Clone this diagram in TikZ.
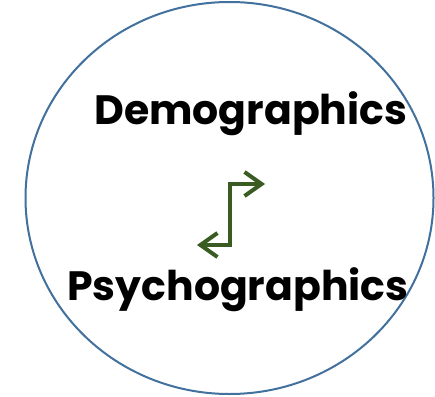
\documentclass[tikz,border=0pt]{standalone}
\usepackage{fontspec}
\setmainfont{Poppins}
\usetikzlibrary{arrows.meta}
\definecolor{ringblue}{HTML}{41719C}
\definecolor{arrowgreen}{HTML}{3A5C22}
\tikzset{
  ring/.style={draw=ringblue, line width=2pt},
  label/.style={font=\fontsize{41}{44}\selectfont\bfseries, text=black, inner sep=0pt, anchor=base west},
  swap/.style={draw=arrowgreen, line width=4pt,
    {Straight Barb[length=17pt,width=24pt,line width=4pt]}-{Straight Barb[length=17pt,width=24pt,line width=4pt]}}
}
\begin{document}
\begin{tikzpicture}[x=1pt,y=-1pt]
  \useasboundingbox (0,0) rectangle (435,396);
  \fill[white] (0,0) rectangle (435,396);
  % outer ring
  \draw[ring] (229.5,198) ellipse [x radius=204, y radius=196];
  % the two labels
  \node[label] (demo) at (94,124) {Demographics};
  \node[label] (psycho) at (67,300) {Psychographics};
  % stepped two-way arrow between them
  \coordinate (lowend) at (197,245);
  \coordinate (highend) at (265,184);
  \draw[swap] (lowend) -- (230,245) -- (230,184) -- (highend);
\end{tikzpicture}
\end{document}
